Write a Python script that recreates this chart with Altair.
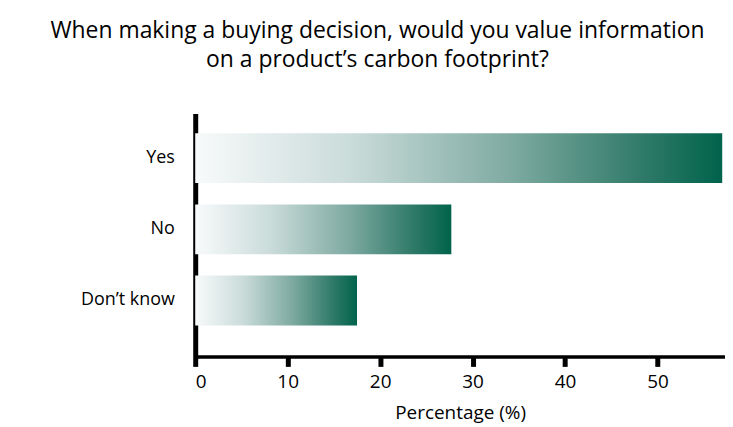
import altair as alt
import pandas as pd

categories = ["Yes", "No", "Don’t know"]
values = [57.0, 27.7, 17.5]
x_ticks = [0, 10, 20, 30, 40, 50]

df = pd.DataFrame({"answer": categories, "pct": values})

FONT = "Open Sans"

gradient = alt.Gradient(
    gradient="linear",
    stops=[
        alt.GradientStop(color="#f8fafb", offset=0),
        alt.GradientStop(color="#c9dbd9", offset=0.3),
        alt.GradientStop(color="#7eaaa1", offset=0.6),
        alt.GradientStop(color="#2f7a68", offset=0.85),
        alt.GradientStop(color="#00634b", offset=1),
    ],
    x1=0, x2=1, y1=0, y2=0,
)

chart = alt.Chart(df).mark_bar(color=gradient).encode(
    x=alt.X(
        "pct:Q",
        scale=alt.Scale(domain=[0, 57.3], nice=False, zero=True),
        axis=alt.Axis(
            values=x_ticks,
            title="Percentage (%)",
            grid=False,
            domainColor="black",
            domainWidth=3.5,
            tickColor="black",
            tickWidth=5,
            tickSize=10,
            labelFont=FONT,
            labelFontSize=19,
            labelColor="black",
            labelPadding=6,
            titleFont=FONT,
            titleFontSize=19,
            titleFontWeight="normal",
            titleColor="black",
            titlePadding=12,
        ),
    ),
    y=alt.Y(
        "answer:N",
        sort=categories,
        scale=alt.Scale(paddingInner=0.3, paddingOuter=0.357, align=0.39),
        axis=alt.Axis(
            title=None,
            ticks=False,
            domainColor="black",
            domainWidth=5,
            labelFont=FONT,
            labelFontSize=18,
            labelColor="black",
            labelPadding=21,
        ),
    ),
).properties(
    width=532,
    height=244,
    autosize=alt.AutoSizeParams(type="none"),
    padding={"left": 188, "top": 105, "right": 0, "bottom": 70},
    title=alt.TitleParams(
        text=["When making a buying decision, would you value information",
              "on a product’s carbon footprint?"],
        font=FONT,
        fontSize=23,
        fontWeight="normal",
        color="black",
        lineHeight=29,
        anchor="middle",
        dx=-83,
        offset=42,
    ),
).configure_view(stroke=None)

chart.save("out.html", embed_options={"renderer": "svg", "actions": False})
